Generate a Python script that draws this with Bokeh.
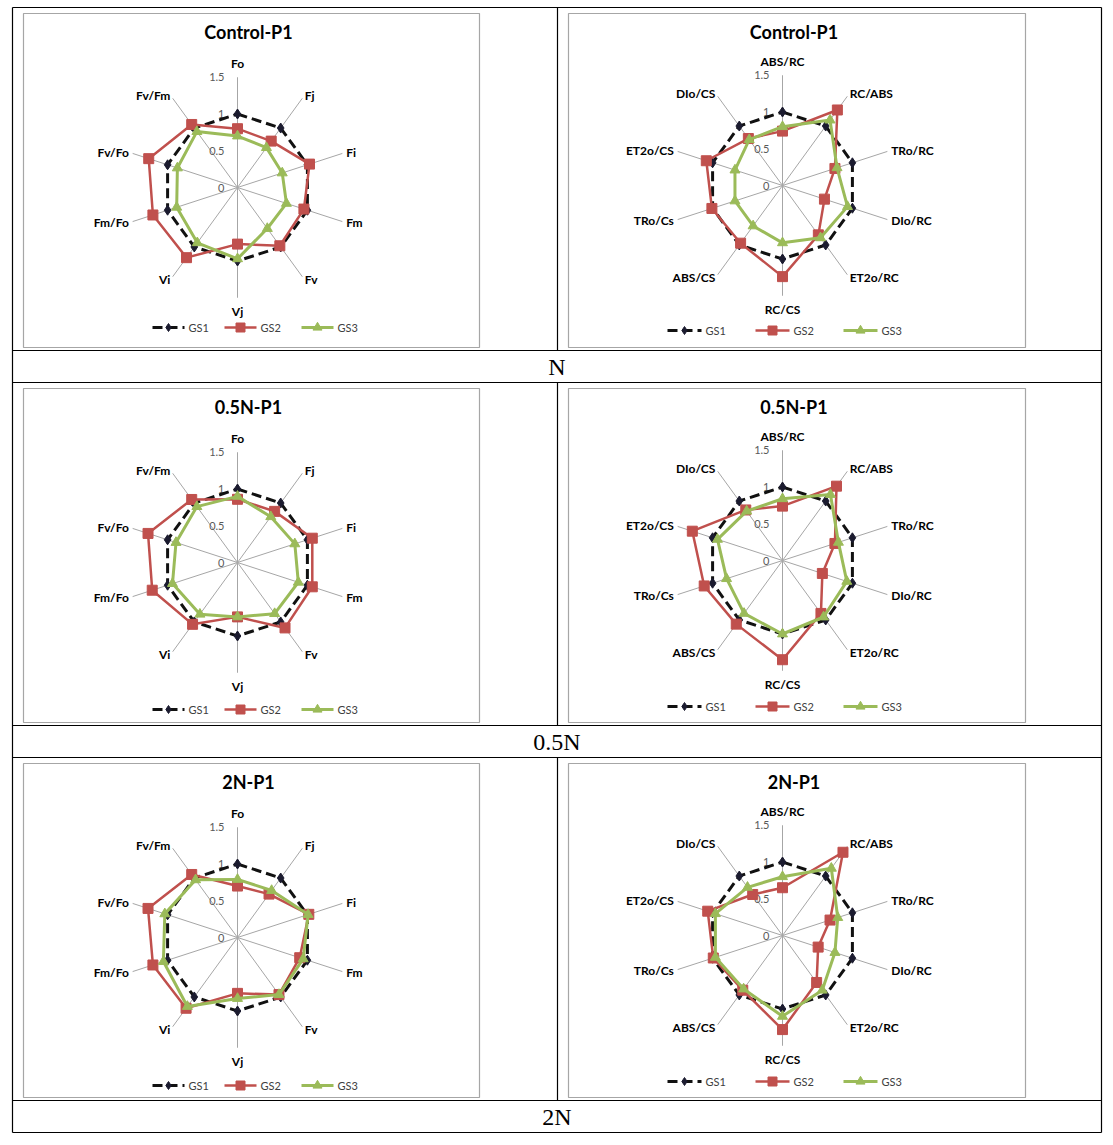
import numpy as np
from bokeh.plotting import figure
from bokeh.models import Range1d
from bokeh.core.properties import value
from bokeh.embed import file_html
from bokeh.resources import INLINE

# ---------------- data ----------------
params_left = ["Fo", "Fj", "Fi", "Fm", "Fv", "Vj", "Vi", "Fm/Fo", "Fv/Fo", "Fv/Fm"]
params_right = ["ABS/RC", "RC/ABS", "TRo/RC", "DIo/RC", "ET2o/RC", "RC/CS", "ABS/CS", "TRo/Cs", "ET2o/CS", "DIo/CS"]
series_names = ["GS1", "GS2", "GS3"]
row_labels = ["N", "0.5N", "2N"]
chart_titles = ["Control-P1", "0.5N-P1", "2N-P1"]
tick_values = [1.5, 1, 0.5, 0]
tick_labels = ["1.5", "1", "0.5", "0"]

gs1_left = [1.0, 1.0, 1.0, 1.0, 1.0, 1.0, 1.0, 1.0, 1.0, 1.0]
gs1_right = [1.0, 1.0, 1.0, 1.0, 1.0, 1.0, 1.0, 1.0, 1.0, 1.0]

ctrl_left_gs2 = [0.80, 0.78, 1.03, 0.95, 0.98, 0.77, 1.18, 1.21, 1.27, 1.06]
ctrl_left_gs3 = [0.70, 0.67, 0.64, 0.70, 0.69, 0.97, 0.93, 0.87, 0.86, 0.94]
ctrl_right_gs2 = [0.74, 1.27, 0.75, 0.60, 0.83, 1.24, 0.97, 1.01, 1.09, 0.79]
ctrl_right_gs3 = [0.80, 1.10, 0.78, 0.93, 0.88, 0.78, 0.68, 0.68, 0.68, 0.77]

half_left_gs2 = [0.86, 0.86, 1.07, 1.07, 1.10, 0.74, 1.04, 1.22, 1.28, 1.06]
half_left_gs3 = [0.90, 0.77, 0.82, 0.87, 0.86, 0.74, 0.87, 0.93, 0.88, 0.94]
half_right_gs2 = [0.74, 1.25, 0.75, 0.57, 0.89, 1.35, 1.07, 1.12, 1.29, 0.85]
half_right_gs3 = [0.84, 1.11, 0.80, 0.92, 0.95, 1.00, 0.89, 0.80, 0.93, 0.83]

double_left_gs2 = [0.70, 0.73, 1.02, 0.89, 0.96, 0.76, 1.19, 1.21, 1.28, 1.06]
double_left_gs3 = [0.79, 0.79, 1.01, 0.94, 0.96, 0.83, 1.16, 1.06, 1.04, 0.97]
double_right_gs2 = [0.65, 1.40, 0.68, 0.51, 0.79, 1.28, 0.92, 0.99, 1.07, 0.69]
double_right_gs3 = [0.80, 1.13, 0.79, 0.75, 0.92, 1.10, 0.90, 0.96, 0.96, 0.81]

charts = [
    [(params_left, [gs1_left, ctrl_left_gs2, ctrl_left_gs3]),
     (params_right, [gs1_right, ctrl_right_gs2, ctrl_right_gs3])],
    [(params_left, [gs1_left, half_left_gs2, half_left_gs3]),
     (params_right, [gs1_right, half_right_gs2, half_right_gs3])],
    [(params_left, [gs1_left, double_left_gs2, double_left_gs3]),
     (params_right, [gs1_right, double_right_gs2, double_right_gs3])],
]

# ---------------- layout / style ----------------
W, H = 1113, 1145
TABLE_L, TABLE_R, COL_X = 12, 1101, 557
TOP, BLOCK, CHART_H = 7, 375, 343
BOX_X = [(23, 479), (568, 1025)]
CX = [237, 782]
CY_OFF = [180, 178]
UNIT = 73.5
RMAX = 1.5
legend_y = [[327, 330], [709, 706], [1085, 1081]]
legend_x = [[152, 224, 301], [667, 755, 843]]
legend_len = [32, 34]

colors = ["#111111", "#c0504d", "#9bbb59"]
markers = ["diamond", "square", "triangle"]
msizes = [10, 10, 10]
leg_msizes = [8, 9, 9]
lwidths = [3, 2.5, 3]
dashes = ["10 5", "solid", "solid"]
marker_fill = ["#1b1b2f", "#c0504d", "#9bbb59"]

FONT = value("Lato")

p = figure(width=W, height=H, x_range=Range1d(0, W), y_range=Range1d(H, 0),
           x_axis_type=None, y_axis_type=None, output_backend="svg",
           toolbar_location=None, min_border=0, outline_line_color=None)
p.grid.visible = False
p.background_fill_color = "white"
p.border_fill_color = "white"

# table
hy = []
for i in range(3):
    y0 = TOP + BLOCK * i
    hy += [y0, y0 + CHART_H]
hy.append(TOP + BLOCK * 3)
p.segment(x0=[TABLE_L] * len(hy), x1=[TABLE_R] * len(hy), y0=hy, y1=hy,
          line_color="black", line_width=1.2)
p.segment(x0=[TABLE_L, TABLE_R], x1=[TABLE_L, TABLE_R], y0=[TOP, TOP],
          y1=[TOP + 3 * BLOCK, TOP + 3 * BLOCK], line_color="black", line_width=1.2)
p.segment(x0=[COL_X] * 3, x1=[COL_X] * 3,
          y0=[TOP + BLOCK * i for i in range(3)],
          y1=[TOP + BLOCK * i + CHART_H for i in range(3)],
          line_color="black", line_width=1.2)
p.text(x=[(TABLE_L + TABLE_R) / 2] * 3,
       y=[TOP + BLOCK * i + CHART_H + 16 for i in range(3)],
       text=row_labels, text_font=value("Liberation Serif"), text_font_size="24px",
       text_align="center", text_baseline="middle", text_color="black")

for r in range(3):
    y0 = TOP + BLOCK * r
    for c in range(2):
        params, series = charts[r][c]
        bx0, bx1 = BOX_X[c]
        p.quad(left=[bx0], right=[bx1], top=[y0 + 6], bottom=[y0 + 340],
               fill_color="white", line_color="#a6a6a6", line_width=1.2)
        cx, cy = CX[c], y0 + CY_OFF[c]
        n = len(params)
        th = np.arange(n) * 2 * np.pi / n
        sx, sy = np.sin(th), -np.cos(th)
        # title
        p.text(x=[(bx0 + bx1) / 2 - 3], y=[y0 + 24], text=[chart_titles[r]],
               text_font=FONT, text_font_size="18px", text_font_style="bold",
               text_align="center", text_baseline="middle", text_color="black")
        # spokes
        p.segment(x0=[cx] * n, y0=[cy] * n, x1=list(cx + sx * RMAX * UNIT),
                  y1=list(cy + sy * RMAX * UNIT), line_color="#a6a6a6", line_width=1)
        # tick labels
        p.text(x=[cx - 13] * len(tick_values),
               y=[cy - v * UNIT for v in tick_values], text=tick_labels,
               text_font=FONT, text_font_size="11px", text_color="#595959",
               text_align="right", text_baseline="middle")
        # category labels
        lr = RMAX * UNIT + 4
        for k in range(n):
            s = sx[k]
            if abs(s) < 0.1:
                al = "center"
                bl = "bottom" if sy[k] < 0 else "top"
                lx, ly = cx, cy + sy[k] * (lr + 2)
            else:
                al = "left" if s > 0 else "right"
                bl = "middle"
                lx, ly = cx + s * lr, cy + sy[k] * lr
            p.text(x=[lx], y=[ly], text=[params[k]], text_font=FONT,
                   text_font_size="12px", text_font_style="bold",
                   text_color="black", text_align=al, text_baseline=bl)
        # series
        for si, vals in enumerate(series):
            v = np.array(vals)
            xs = cx + sx * v * UNIT
            ys = cy + sy * v * UNIT
            p.line(x=list(xs) + [xs[0]], y=list(ys) + [ys[0]],
                   line_color=colors[si], line_width=lwidths[si],
                   line_dash=dashes[si], line_join="round")
            p.scatter(x=list(xs), y=list(ys), marker=markers[si], size=msizes[si],
                      fill_color=marker_fill[si], line_color=marker_fill[si])
        # legend
        ly = legend_y[r][c]
        for si, name in enumerate(series_names):
            lx0 = legend_x[c][si]
            L = legend_len[c]
            p.line(x=[lx0, lx0 + L], y=[ly, ly], line_color=colors[si],
                   line_width=lwidths[si], line_dash=dashes[si])
            p.scatter(x=[lx0 + L / 2], y=[ly], marker=markers[si], size=leg_msizes[si],
                      fill_color=marker_fill[si], line_color=marker_fill[si])
            p.text(x=[lx0 + L + 4], y=[ly], text=[name], text_font=FONT,
                   text_font_size="11px", text_color="#404040",
                   text_align="left", text_baseline="middle")

open("out.html", "w").write(file_html(p, INLINE))
